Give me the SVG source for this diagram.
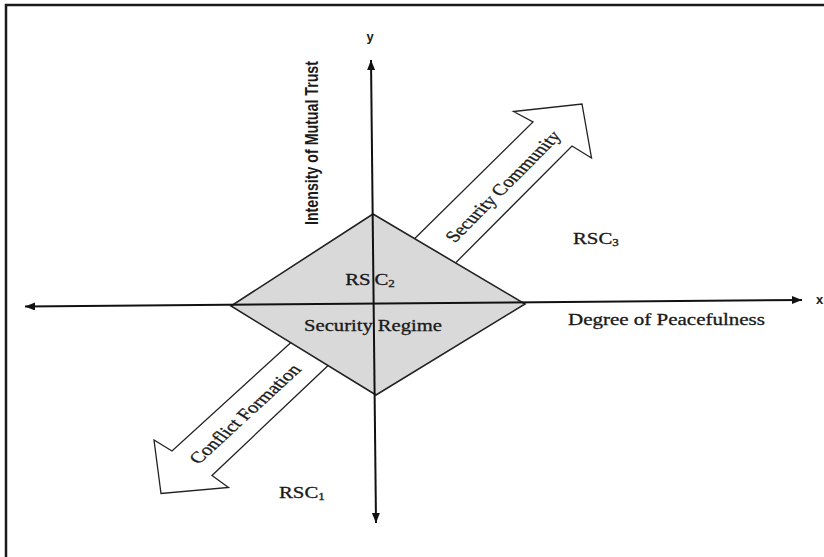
<svg xmlns="http://www.w3.org/2000/svg" width="824" height="557" viewBox="0 0 824 557">
  <style>
    .lbl { font-family: "Liberation Serif", "Times New Roman", serif; font-size: 16px; fill: #1a1a1a; stroke: #1a1a1a; stroke-width: 0.3; }
    .sans { font-family: "Liberation Sans", Arial, sans-serif; fill: #1a1a1a; }
    .axis { stroke: #111; stroke-width: 2; fill: none; }
    .bigarrow { fill: #fff; stroke: #222; stroke-width: 1.3; stroke-linejoin: miter; }
    .diamond { fill: #d9d9d9; stroke: #222; stroke-width: 1.6; }
    .frame { stroke: #1a1a1a; stroke-width: 2.5; fill: none; }
  </style>
  <defs>
    <marker id="ah" markerUnits="userSpaceOnUse" markerWidth="12" markerHeight="10" refX="10" refY="4" orient="auto-start-reverse">
      <path d="M0,0 L10,4 L0,8 Z" fill="#111"/>
    </marker>
  </defs>
  <rect width="824" height="557" fill="#fff"/>
  <path class="frame" d="M6,557 L6,5 L824,5"/>

  <g id="arrow-security-community">
    <path class="bigarrow" d="M398,255 L533,122 L513.5,111.5 L582,104 L591.5,158 L572,146 L440,278.5 Z"/>
    <text class="lbl" transform="translate(503,186.5) scale(1.3,1) rotate(-52.5)" text-anchor="middle" dy="0.33em" textLength="135" lengthAdjust="spacingAndGlyphs">Security Community</text>
  </g>
  <g id="arrow-conflict-formation">
    <path class="bigarrow" d="M308,327 L172,451 L154,440 L161,493.5 L228.5,487.5 L212,475.5 L345,349.5 Z"/>
    <text class="lbl" transform="translate(245,414) scale(1.3,1) rotate(-50)" text-anchor="middle" dy="0.33em" textLength="124" lengthAdjust="spacingAndGlyphs">Conflict Formation</text>
  </g>

  <g id="security-regime">
    <polygon class="diamond" points="373,214 525,304 376,395 231,306"/>
  </g>

  <g id="connectors">
    <line class="axis" x1="376" y1="523" x2="371" y2="60" marker-start="url(#ah)" marker-end="url(#ah)"/>
    <line class="axis" x1="25" y1="306.5" x2="802" y2="300" marker-start="url(#ah)" marker-end="url(#ah)"/>
  </g>

  <g id="security-regime-labels">
    <text class="lbl" transform="translate(370,285) scale(1.3,1)" text-anchor="middle">RS<tspan dx="3">C</tspan><tspan font-size="10" dy="2">2</tspan></text>
    <text class="lbl" transform="translate(373,331) scale(1.3,1)" text-anchor="middle" textLength="106" lengthAdjust="spacingAndGlyphs">Security Regime</text>
  </g>

  <g id="rsc3">
    <text class="lbl" transform="translate(573,244) scale(1.3,1)">RSC<tspan font-size="10" dy="2">3</tspan></text>
  </g>
  <g id="rsc1">
    <text class="lbl" transform="translate(279,498) scale(1.3,1)">RSC<tspan font-size="10" dy="2">1</tspan></text>
  </g>

  <g id="axis-labels">
    <text class="lbl" transform="translate(568,325) scale(1.3,1)" textLength="151.5" lengthAdjust="spacingAndGlyphs">Degree of Peacefulness</text>
    <text class="sans" font-size="14.2" font-weight="bold" transform="translate(318,143) scale(1.3,1) rotate(-90)" text-anchor="middle" textLength="164" lengthAdjust="spacingAndGlyphs">Intensity of Mutual Trust</text>
    <text class="sans" font-size="13" font-weight="bold" x="370" y="41" text-anchor="middle">y</text>
    <text class="sans" font-size="13" font-weight="bold" x="816" y="304">x</text>
  </g>
</svg>
